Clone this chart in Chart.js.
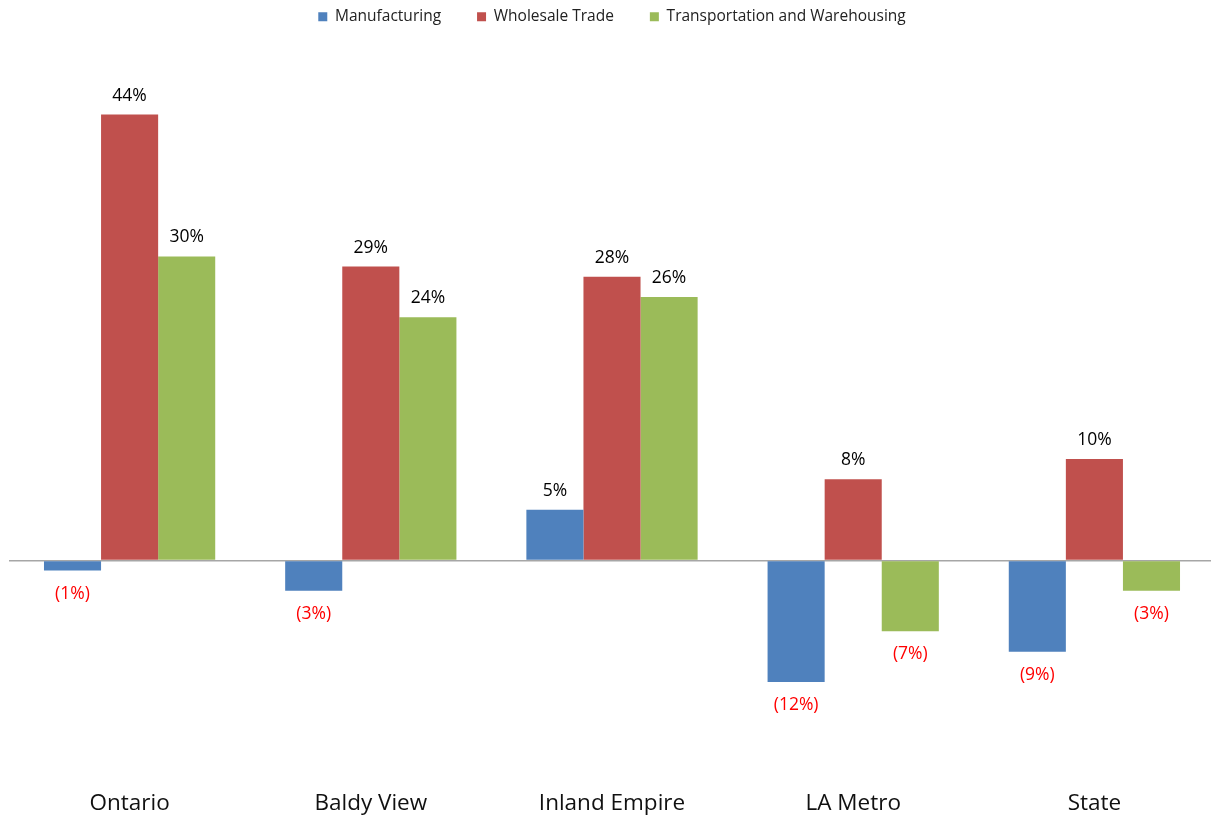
<!DOCTYPE html>
<html>
<head>
<meta charset="utf-8">
<script src="https://cdn.jsdelivr.net/npm/chart.js@4.4.1/dist/chart.umd.min.js"></script>
<style>
  html, body { margin: 0; padding: 0; background: #fff; overflow: hidden; }
  #wrap { width: 1211px; height: 818px; position: relative; overflow: hidden; }
  #c { position: absolute; left: 0; top: 0; }
</style>
</head>
<body>
<div id="wrap"><canvas id="c" width="1215" height="818"></canvas></div>
<script>
const categories = ['Ontario', 'Baldy View', 'Inland Empire', 'LA Metro', 'State'];
const seriesNames = ['Manufacturing', 'Wholesale Trade', 'Transportation and Warehousing'];
const manufacturing = [-1, -3, 5, -12, -9];
const wholesaleTrade = [44, 29, 28, 8, 10];
const transportation = [30, 24, 26, -7, -3];
const colors = ['#4F81BD', '#C0504D', '#9BBB59'];

const FONT = '"Open Sans", Lato, sans-serif';

const dataLabels = {
  id: 'dataLabels',
  afterDatasetsDraw(chart) {
    const ctx = chart.ctx;
    ctx.save();
    ctx.font = '17.5px ' + FONT;
    ctx.textAlign = 'center';
    ctx.textBaseline = 'middle';
    chart.data.datasets.forEach((ds, di) => {
      const meta = chart.getDatasetMeta(di);
      meta.data.forEach((el, i) => {
        const v = ds.data[i];
        if (v >= 0) {
          ctx.fillStyle = '#000';
          ctx.fillText(v + '%', el.x, el.y - 19);
        } else {
          ctx.fillStyle = '#FF0000';
          ctx.fillText('(' + Math.abs(v) + '%)', el.x, el.y + 23);
        }
      });
    });
    ctx.restore();
  }
};

new Chart(document.getElementById('c'), {
  type: 'bar',
  data: {
    labels: categories,
    datasets: [
      { label: seriesNames[0], data: manufacturing, backgroundColor: colors[0] },
      { label: seriesNames[1], data: wholesaleTrade, backgroundColor: colors[1] },
      { label: seriesNames[2], data: transportation, backgroundColor: colors[2] }
    ]
  },
  options: {
    responsive: false,
    animation: false,
    layout: { padding: { top: -27, left: 9, right: 0, bottom: -25 } },
    datasets: { bar: { categoryPercentage: 0.71, barPercentage: 1.0 } },
    plugins: {
      legend: {
        position: 'top',
        labels: {
          boxWidth: 9, boxHeight: 9, padding: 36,
          color: '#222',
          font: { family: FONT, size: 15.5 }
        }
      },
      tooltip: { enabled: false }
    },
    scales: {
      x: {
        grid: { display: false },
        border: { display: false },
        ticks: { color: '#111', font: { family: FONT, size: 22.5 }, padding: 26 }
      },
      y: {
        min: -19.3, max: 51.9,
        border: { display: false },
        grid: {
          drawTicks: false,
          color: (c) => (c.tick && c.tick.value === 0) ? '#A6A6A6' : 'rgba(0,0,0,0)',
          lineWidth: 1.5
        },
        ticks: { display: false, stepSize: 10 }
      }
    }
  },
  plugins: [dataLabels]
});
</script>
</body>
</html>
